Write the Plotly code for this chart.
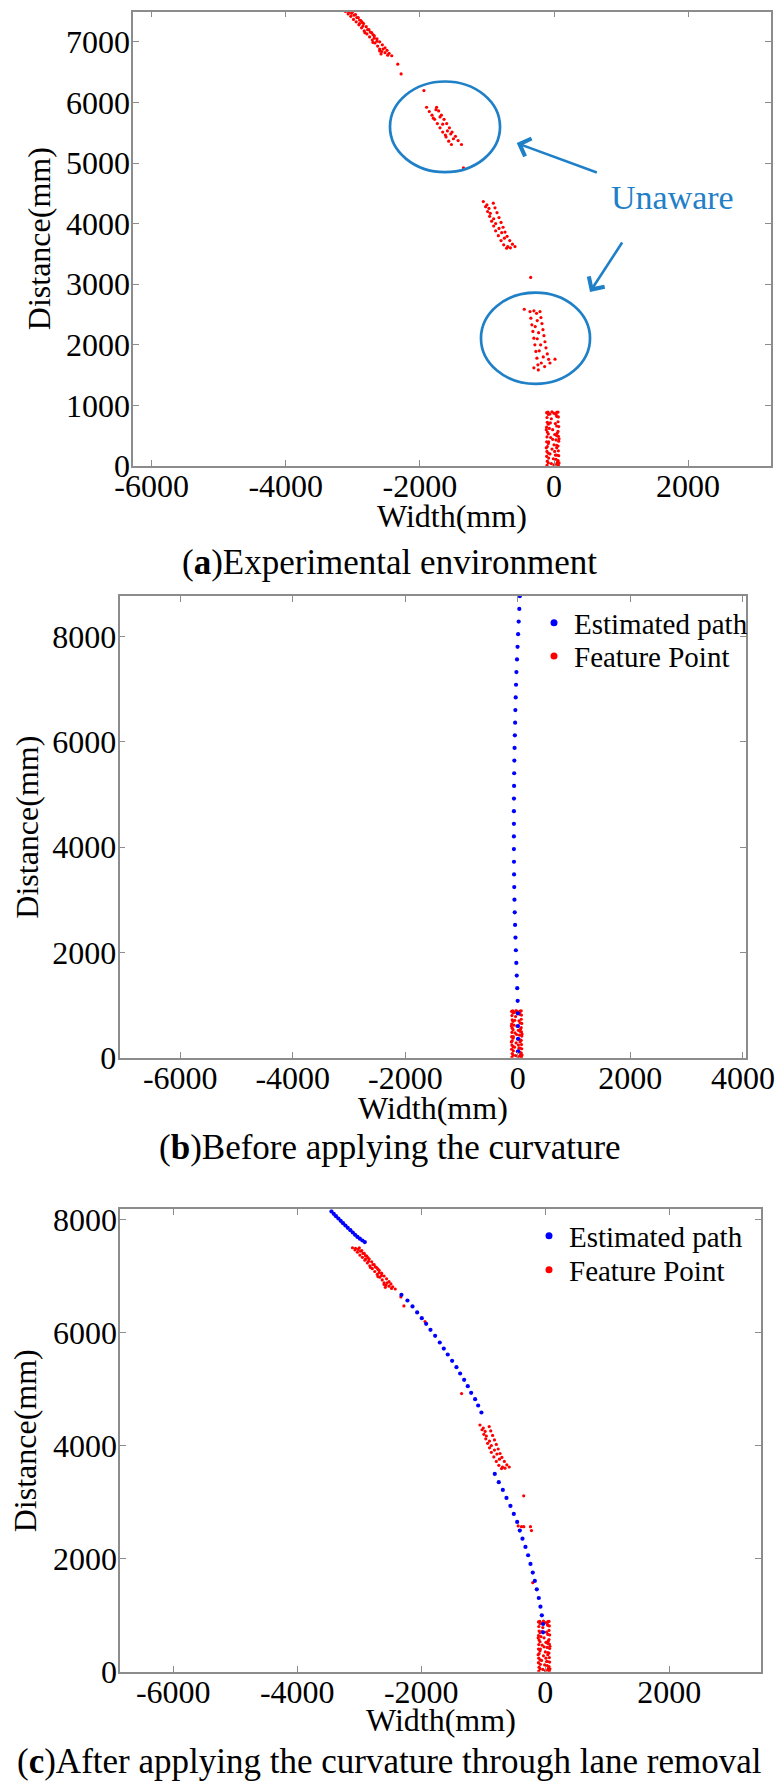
import plotly.graph_objects as go

# ---------------- data (mm) ----------------
# Feature points: upper lane cluster
top_x = [-3110, -3060, -3000, -3070, -3020, -2960, -3030, -2980, -2920, -2990, -2940, -2880, -2950,
         -2900, -2840, -2910, -2860, -2800, -2870, -2900, -2760, -2830, -2850, -2720, -2790, -2780,
         -2680, -2750, -2740, -2640, -2710, -2820, -2600, -2670, -2700, -2560, -2630, -2680, -2520,
         -2600, -2640, -2490, -2570, -2700, -2460, -2550, -2420, -2600, -2520, -2480, -2580]
top_y = [7500, 7490, 7500, 7460, 7470, 7450, 7420, 7440, 7400, 7370, 7400, 7350, 7330,
         7360, 7300, 7280, 7320, 7250, 7230, 7300, 7200, 7180, 7260, 7150, 7130, 7200,
         7100, 7080, 7160, 7050, 7030, 7150, 7000, 6980, 7120, 6950, 6930, 7060, 6900,
         6880, 7010, 6860, 6840, 6990, 6810, 6880, 6770, 6850, 6820, 6780, 6800]
# isolated feature points
stray_x = [-2330, -2280, -1940, -1350, -348]
stray_y = [6630, 6470, 6195, 4920, 3112]
# cluster inside the upper "Unaware" circle (panel a only)
c1_x = [-1900, -1860, -1820, -1780, -1740, -1700, -1660, -1610, -1570, -1530,
        -1750, -1720, -1680, -1640, -1600, -1560, -1520, -1470, -1430, -1380,
        -1760, -1800, -1700, -1660, -1590, -1540, -1500, -1620]
c1_y = [5920, 5850, 5790, 5720, 5650, 5580, 5510, 5430, 5360, 5305,
        5920, 5860, 5790, 5720, 5650, 5580, 5510, 5440, 5370, 5305,
        5880, 5740, 5760, 5640, 5530, 5480, 5400, 5460]
# middle lane cluster
c3_x = [-1054, -1020, -990, -960, -930, -900, -870, -830, -790, -750, -706,
        -905, -880, -850, -820, -790, -760, -730, -700, -660, -620, -582,
        -1000, -970, -950, -900, -870, -820, -780, -740, -690, -650]
c3_y = [4364, 4280, 4200, 4120, 4040, 3960, 3880, 3800, 3720, 3650, 3594,
        4337, 4260, 4180, 4100, 4020, 3940, 3860, 3790, 3720, 3660, 3621,
        4310, 4250, 4170, 4080, 4000, 3920, 3850, 3760, 3620, 3600]
# cluster inside the lower "Unaware" circle (panel a)
c2_x = [-358, -345, -330, -315, -300, -285, -270, -255, -240, -234,
        -209, -195, -180, -165, -150, -135, -120, -100, -80, -60,
        -300, -260, -250, -280, -230, -250, -200, -220, -160, -190, -140, -443, 15, -300]
c2_y = [2548, 2440, 2330, 2220, 2110, 2000, 1890, 1780, 1670, 1585,
        2548, 2450, 2350, 2250, 2150, 2050, 1950, 1850, 1760, 1700,
        2560, 2520, 2400, 2300, 2200, 2100, 2000, 1900, 1800, 1700, 1640, 2587, 1762, 1620]
# what is left of that cluster after lane removal (panel c)
c2k_x = [-438, -384, -347, -239, -223, -202]
c2k_y = [2579, 2566, 2566, 2566, 2496, 1575]
# near lane cluster at the vehicle
bot_x = [-110, -105, -100, -110, -100, -105, -110, -100, -105, -110, -100, -105,
         60, 65, 60, 70, 60, 65, 70, 60, 65, 70, 60, 65,
         -60, 0, 30, -40, 20, -70, -20, 10, -50, 30, -80, 0, 40, -30, -60, 20, -10, 50,
         -40, 0, 30, -80, 10, -20, 45, -55, -90, -30, 40,
         -85, -85, -85, -85, -85, -85, 40, 40, 40, 40, 40, 40, 75, 75, -115, -115]
bot_y = [880, 800, 720, 640, 560, 480, 400, 320, 240, 160, 80, 10,
         890, 810, 730, 650, 570, 490, 410, 330, 250, 170, 90, 15,
         860, 870, 850, 780, 700, 620, 600, 520, 470, 430, 400, 350, 300, 280, 200, 180, 120, 60,
         40, 20, 110, 130, 240, 440, 540, 710, 890, 895, 885,
         850, 690, 530, 370, 210, 50, 820, 660, 500, 340, 180, 30, 450, 50, 300, 600]

# Estimated path before curvature (panel b)
pb_x = [35, 26, 15, 5, -5, -15, -25, -32, -38, -44, -48, -53, -58, -62, -65, -67, -69, -70, -70,
        -70, -70, -69, -67, -64, -60, -55, -49, -42, -35, -27, -19, -11, -3, 0, 3, 5, 5]
pb_y = [8760, 8520, 8280, 8040, 7800, 7560, 7320, 7080, 6840, 6600, 6360, 6120, 5880, 5640, 5400,
        5160, 4920, 4680, 4440, 4200, 3960, 3720, 3480, 3240, 3000, 2760, 2520, 2280, 2040, 1800,
        1560, 1320, 1080, 840, 600, 360, 120]

# Estimated path after curvature (panel c)
pc_x = [-3449, -3412, -3376, -3337, -3300, -3262, -3224, -3186, -3143, -3105, -3068, -3030, -2991,
        -2950, -2911,
        -2320, -2223, -2142, -2067, -1992, -1922, -1852, -1777, -1702, -1637, -1573, -1503, -1433,
        -1374, -1309, -1250, -1196, -1132, -1083, -1030,
        -815, -750, -685, -626, -562, -508, -454, -411, -368, -320, -277, -239, -202, -169, -137,
        -105, -78, -56, -35, -35]
pc_y = [8142, 8100, 8059, 8017, 7976, 7935, 7893, 7852, 7811, 7770, 7729, 7692, 7660,
        7628, 7600,
        6667, 6567, 6461, 6355, 6254, 6154, 6048, 5942, 5824, 5717, 5611, 5499, 5387,
        5275, 5163, 5051, 4933, 4821, 4709, 4585,
        3499, 3352, 3216, 3074, 2933, 2791, 2650, 2496, 2354, 2207, 2060, 1906, 1753, 1605, 1458,
        1304, 1151, 998, 844, 697]

# tick values (labels printed with ASCII hyphen as in the source)
xa_ticks = [-6000, -4000, -2000, 0, 2000]
ya_ticks = [0, 1000, 2000, 3000, 4000, 5000, 6000, 7000]
xb_ticks = [-6000, -4000, -2000, 0, 2000, 4000]
yb_ticks = [0, 2000, 4000, 6000, 8000]
xc_ticks = [-6000, -4000, -2000, 0, 2000]
yc_ticks = [0, 2000, 4000, 6000, 8000]

x_title = "Width(mm)"
y_title = "Distance(mm)"
captions = ["(<b>a</b>)Experimental environment",
            "(<b>b</b>)Before applying the curvature",
            "(<b>c</b>)After applying the curvature through lane removal"]

# ---------------- styling ----------------
W, H = 779, 1784
FONT = "Liberation Serif, Times New Roman, serif"
RED = "#ff0000"
BLUE = "#0000ff"
ANN = "#1f80c8"
FRAME = "#8c8c8c"


def px(v):
    return v / W


def py(v):
    return 1 - v / H


def make_axis(dom, rng, ticks, anchor, is_x):
    return dict(domain=dom, range=rng, anchor=anchor,
                tickmode="array", tickvals=ticks, ticktext=[str(t) for t in ticks],
                ticks="inside", ticklen=6, tickwidth=1.3, tickcolor=FRAME,
                showline=True, linecolor=FRAME, linewidth=1.5, mirror="ticks",
                showgrid=False, zeroline=False, fixedrange=True,
                ticklabelstandoff=(-9 if is_x else -5),
                tickfont=dict(family=FONT, size=32, color="black"))


fig = go.Figure()

red_marker = dict(color=RED, size=3.2, line=dict(width=0))
blue_marker = dict(color=BLUE, size=4.2, line=dict(width=0))

# panel (a)
fa_x = top_x + stray_x + c1_x + c3_x + c2_x + bot_x
fa_y = top_y + stray_y + c1_y + c3_y + c2_y + bot_y
fig.add_trace(go.Scatter(x=fa_x, y=fa_y, mode="markers", marker=red_marker,
                         name="Feature Point", showlegend=False, xaxis="x", yaxis="y"))

# panel (b)
fig.add_trace(go.Scatter(x=bot_x, y=bot_y, mode="markers", marker=red_marker,
                         name="Feature Point", showlegend=False, xaxis="x2", yaxis="y2"))
fig.add_trace(go.Scatter(x=pb_x, y=pb_y, mode="markers", marker=blue_marker,
                         name="Estimated path", showlegend=False, xaxis="x2", yaxis="y2"))

# panel (c)
fc_x = top_x + stray_x + c3_x + c2k_x + bot_x
fc_y = top_y + stray_y + c3_y + c2k_y + bot_y
fig.add_trace(go.Scatter(x=fc_x, y=fc_y, mode="markers", marker=red_marker,
                         name="Feature Point", showlegend=False, xaxis="x3", yaxis="y3"))
fig.add_trace(go.Scatter(x=pc_x, y=pc_y, mode="markers", marker=blue_marker,
                         name="Estimated path", showlegend=False, xaxis="x3", yaxis="y3"))

# legend entries for (b) and (c): one legend box per entry for exact row spacing
legend_items = [("legend", "x2", "y2", BLUE, "Estimated path"),
                ("legend2", "x2", "y2", RED, "Feature Point"),
                ("legend3", "x3", "y3", BLUE, "Estimated path"),
                ("legend4", "x3", "y3", RED, "Feature Point")]
for lg, xa, ya, col, nm in legend_items:
    fig.add_trace(go.Scatter(x=[None], y=[None], mode="markers",
                             marker=dict(color=col, size=7), name=nm,
                             legend=lg, xaxis=xa, yaxis=ya))

legend_style = dict(xanchor="left", yanchor="top", bgcolor="rgba(0,0,0,0)", borderwidth=0,
                    font=dict(family=FONT, size=29, color="black"), itemwidth=30,
                    tracegroupgap=0)

fig.update_layout(
    width=W, height=H, margin=dict(l=0, r=0, t=0, b=0),
    paper_bgcolor="white", plot_bgcolor="white", template="none",
    showlegend=True,
    xaxis=make_axis([px(133.1), px(770.6)], [-6277, 3230], xa_ticks, "y", True),
    yaxis=make_axis([py(466), py(11.5)], [0, 7500], ya_ticks, "x", False),
    xaxis2=make_axis([px(119.5), px(745.7)], [-7080, 4050], xb_ticks, "y2", True),
    yaxis2=make_axis([py(1057.7), py(596)], [0, 8765], yb_ticks, "x2", False),
    xaxis3=make_axis([px(120.2), px(760.7)], [-6856, 3474], xc_ticks, "y3", True),
    yaxis3=make_axis([py(1671.7), py(1209.3)], [0, 8180], yc_ticks, "x3", False),
    legend=dict(x=px(534), y=py(597.3), **legend_style),
    legend2=dict(x=px(534), y=py(630.7), **legend_style),
    legend3=dict(x=px(529), y=py(1210.5), **legend_style),
    legend4=dict(x=px(529), y=py(1244.4), **legend_style),
)

# axis titles, placed as in the source figure
title_font = dict(family=FONT, size=32, color="black")
for xc, yc in ((451.9, 516), (432.6, 1107.5), (440.5, 1720)):
    fig.add_annotation(x=px(xc), y=py(yc), xref="paper", yref="paper", text=x_title,
                       showarrow=False, xanchor="center", yanchor="middle", font=title_font)
for xc, yc in ((38.5, 238.7), (26.8, 826.9), (24.8, 1440.5)):
    fig.add_annotation(x=px(xc), y=py(yc), xref="paper", yref="paper", text=y_title,
                       textangle=-90, showarrow=False, xanchor="center", yanchor="middle",
                       font=title_font)

# "Unaware" circles and arrows in panel (a)
circ = dict(type="circle", xref="x", yref="y", line=dict(color=ANN, width=2.7),
            fillcolor="rgba(0,0,0,0)")
fig.add_shape(x0=-2446, x1=-805, y0=4849, y1=6345, **circ)
fig.add_shape(x0=-1089, x1=537, y0=1354, y1=2861, **circ)

arrow = dict(xref="x", yref="y", axref="x", ayref="y", text="", showarrow=True,
             arrowhead=4, arrowsize=1.4, arrowwidth=2.6, arrowcolor=ANN, standoff=0)
fig.add_annotation(x=-556, y=5328, ax=661, ay=4834, **arrow)
fig.add_annotation(x=537, y=2873, ax=1031, ay=3713, **arrow)
fig.add_annotation(x=1772, y=4425, xref="x", yref="y", text="Unaware", showarrow=False,
                   font=dict(family=FONT, size=34, color=ANN))

# captions
for txt, yc in zip(captions, (562, 1147.5, 1761.7)):
    fig.add_annotation(x=0.5, y=py(yc), xref="paper", yref="paper", text=txt,
                       showarrow=False, xanchor="center", yanchor="middle",
                       font=dict(family=FONT, size=35, color="black"))

fig.write_html("out.html")
